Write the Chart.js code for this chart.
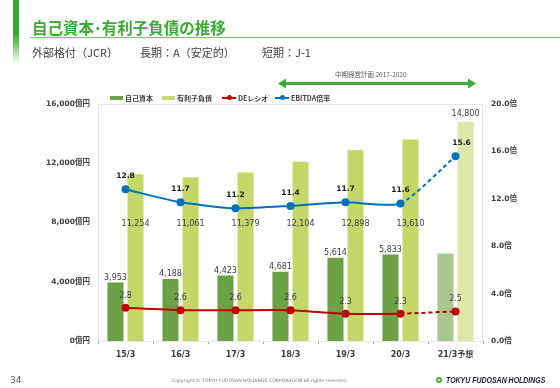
<!DOCTYPE html>
<html>
<head>
<meta charset="utf-8">
<script src="https://cdn.jsdelivr.net/npm/chart.js@4.4.1/dist/chart.umd.min.js"></script>
<style>
  html, body { margin: 0; padding: 0; background: #fff; }
  #page { position: relative; width: 560px; height: 388px; overflow: hidden; font-family: "Noto Sans CJK JP", sans-serif; color: #404040; }
  #page canvas { position: absolute; left: 0; top: 0; }
  .abs { position: absolute; white-space: nowrap; }
  #sidebar { left: 13px; top: 0; width: 6px; height: 64px; background: linear-gradient(#3aa935 0%, #3aa935 55%, rgba(58,169,53,0) 100%); }
  #title { left: 32px; top: 16px; font-size: 15.5px; font-weight: bold; color: #3aa935; }
  #rule { left: 30px; top: 37px; width: 530px; height: 1px; background: #7cbf6e; }
  .sub { top: 44px; font-size: 11px; color: #404040; }
  #plan { left: 335px; top: 69px; font-size: 6.5px; color: #595959; }
  .lg { top: 93px; font-size: 7px; font-weight: bold; color: #404040; display: flex; align-items: center; }
  .lg i { display: inline-block; margin-right: 2px; }
  .box { width: 13px; height: 4px; }
  .ln { position: relative; width: 14px; height: 2px; }
  .ln b { position: absolute; left: 5px; top: -2px; width: 5px; height: 5px; border-radius: 50%; }
  #pageno { left: 10px; top: 375px; font-size: 9px; color: #595959; font-family: "DejaVu Sans", sans-serif; }
  #copy { left: 172px; top: 378px; font-size: 4.6px; color: #777; font-family: "DejaVu Sans", sans-serif; }
  #brand { left: 446px; top: 375px; font-size: 8.5px; font-weight: bold; font-style: italic; color: #1c1c3c; font-family: "Liberation Sans", sans-serif; transform: scaleX(0.82); transform-origin: left center; }
  #logo { left: 436px; top: 377px; width: 6px; height: 6px; border-radius: 50%; background: radial-gradient(#c9e7b4 25%, #4caf3a 30%); }
</style>
</head>
<body>
<div id="page">
  <canvas id="chart" width="560" height="388"></canvas>
  <div id="sidebar" class="abs"></div>
  <div id="title" class="abs">自己資本･有利子負債の推移</div>
  <div id="rule" class="abs"></div>
  <div class="abs sub" style="left:32px">外部格付（JCR）</div>
  <div class="abs sub" style="left:140px">長期：A（安定的）</div>
  <div class="abs sub" style="left:262px">短期：J-1</div>
  <div id="plan" class="abs">中期経営計画 2017-2020</div>
  <svg class="abs" style="left:278px;top:78px" width="200" height="11">
    <line x1="6" y1="5.5" x2="192" y2="5.5" stroke="#3daa3a" stroke-width="3"/>
    <polygon points="0,5.5 8,0.5 8,10.5" fill="#3daa3a"/>
    <polygon points="198,5.5 190,0.5 190,10.5" fill="#3daa3a"/>
  </svg>
  <div class="abs lg" style="left:110px"><i class="box" style="background:#6ea046"></i>自己資本</div>
  <div class="abs lg" style="left:162px"><i class="box" style="background:#c4d86a"></i>有利子負債</div>
  <div class="abs lg" style="left:222px"><i class="ln" style="background:#c00000"><b style="background:#c00000"></b></i>DEレシオ</div>
  <div class="abs lg" style="left:275px"><i class="ln" style="background:#0070c0"><b style="background:#0070c0"></b></i>EBITDA倍率</div>
  <div id="pageno" class="abs">34</div>
  <div id="copy" class="abs">Copyright &#169; TOKYU FUDOSAN HOLDINGS CORPORATION All rights reserved.</div>
  <div id="logo" class="abs"></div>
  <div id="brand" class="abs">TOKYU FUDOSAN HOLDINGS</div>
</div>
<script>
const categories = ['15/3', '16/3', '17/3', '18/3', '19/3', '20/3', '21/3予想'];
const equity = [3953, 4188, 4423, 4681, 5614, 5833, 5900];
const debt = [11254, 11061, 11379, 12104, 12898, 13610, 14800];
const deRatio = [2.8, 2.6, 2.6, 2.6, 2.3, 2.3, 2.5];
const ebitdaMultiple = [12.8, 11.7, 11.2, 11.4, 11.7, 11.6, 15.6];
const forecastIndex = 6;

const numFont = '"DejaVu Sans", "Noto Sans CJK JP", sans-serif';

const equityColors = categories.map((c, i) => i === forecastIndex ? '#a9c78f' : '#6ea046');
const debtColors = categories.map((c, i) => i === forecastIndex ? '#dce8a9' : '#c4d86a');

const dashLast = ctx => ctx.p1DataIndex === forecastIndex ? [4, 3] : undefined;

// faint frame round the plot
const plotFrame = {
  id: 'plotFrame',
  beforeDatasetsDraw(chart) {
    const a = chart.chartArea;
    const ctx = chart.ctx;
    ctx.save();
    ctx.strokeStyle = '#e6e6e6';
    ctx.lineWidth = 1;
    ctx.strokeRect(a.left + 0.5, a.top + 0.5, a.right - a.left - 1, a.bottom - a.top);
    ctx.restore();
  }
};

const valueLabels = {
  id: 'valueLabels',
  afterDatasetsDraw(chart) {
    const ctx = chart.ctx;
    const yLeft = chart.scales.y;
    ctx.save();
    ctx.textAlign = 'center';
    ctx.textBaseline = 'middle';
    ctx.fillStyle = '#404040';
    ctx.font = '8px ' + numFont;

    chart.getDatasetMeta(0).data.forEach((bar, i) => {
      if (i === forecastIndex) return;
      ctx.fillText(equity[i].toLocaleString('en-US'), bar.x, bar.y - 5);
    });

    const debtRow = yLeft.getPixelForValue(7900);
    chart.getDatasetMeta(1).data.forEach((bar, i) => {
      const ty = i === forecastIndex ? bar.y - 8 : debtRow;
      ctx.fillText(debt[i].toLocaleString('en-US'), bar.x, ty);
    });

    chart.getDatasetMeta(2).data.forEach((pt, i) => {
      ctx.fillText(deRatio[i].toFixed(1), pt.x, pt.y - 12);
    });

    ctx.font = 'bold 7.5px ' + numFont;
    ctx.fillStyle = '#1a1a1a';
    chart.getDatasetMeta(3).data.forEach((pt, i) => {
      const dx = i === forecastIndex ? 6 : 0;
      ctx.fillText(ebitdaMultiple[i].toFixed(1), pt.x + dx, pt.y - 13);
    });
    ctx.restore();
  }
};

new Chart(document.getElementById('chart'), {
  type: 'bar',
  data: {
    labels: categories,
    datasets: [
      {
        label: '自己資本',
        data: equity,
        backgroundColor: equityColors,
        yAxisID: 'y',
        order: 2,
        categoryPercentage: 0.73,
        barPercentage: 0.8
      },
      {
        label: '有利子負債',
        data: debt,
        backgroundColor: debtColors,
        yAxisID: 'y',
        order: 2,
        categoryPercentage: 0.73,
        barPercentage: 0.8
      },
      {
        type: 'line',
        label: 'DEレシオ',
        data: deRatio,
        yAxisID: 'y1',
        borderColor: '#c00000',
        backgroundColor: '#c00000',
        borderWidth: 2,
        pointRadius: 3,
        pointHoverRadius: 3,
        tension: 0.15,
        order: 0,
        segment: { borderDash: dashLast }
      },
      {
        type: 'line',
        label: 'EBITDA倍率',
        data: ebitdaMultiple,
        yAxisID: 'y1',
        borderColor: '#0070c0',
        backgroundColor: '#0070c0',
        borderWidth: 2,
        pointRadius: 3,
        pointHoverRadius: 3,
        tension: 0.2,
        order: 0,
        segment: { borderDash: dashLast }
      }
    ]
  },
  options: {
    responsive: false,
    animation: false,
    layout: { padding: { left: 0, right: 0, top: 104, bottom: 27 } },
    plugins: {
      legend: { display: false },
      tooltip: { enabled: false }
    },
    scales: {
      x: {
        grid: { display: true, drawOnChartArea: false, drawTicks: true, tickLength: 3, color: '#a6a6a6' },
        border: { display: true, color: '#a6a6a6' },
        ticks: { color: '#404040', font: { family: numFont, size: 8, weight: 'bold' }, padding: 6, maxRotation: 0 },
        afterFit(scale) { scale.height = 20; }
      },
      y: {
        position: 'left',
        min: 0,
        max: 16000,
        grid: { display: false, drawTicks: false },
        border: { display: false },
        ticks: {
          stepSize: 4000,
          padding: 8,
          color: '#404040',
          font: { family: numFont, size: 7.5, weight: 'bold' },
          callback: v => v.toLocaleString('en-US') + '億円'
        },
        afterFit(scale) { scale.width = 98; }
      },
      y1: {
        position: 'right',
        min: 0,
        max: 20,
        grid: { display: false, drawTicks: false },
        border: { display: false },
        ticks: {
          stepSize: 4,
          padding: 8,
          color: '#404040',
          font: { family: numFont, size: 7.5, weight: 'bold' },
          callback: v => v.toFixed(1) + '倍'
        },
        afterFit(scale) { scale.width = 77; }
      }
    }
  },
  plugins: [plotFrame, valueLabels]
});
</script>
</body>
</html>
